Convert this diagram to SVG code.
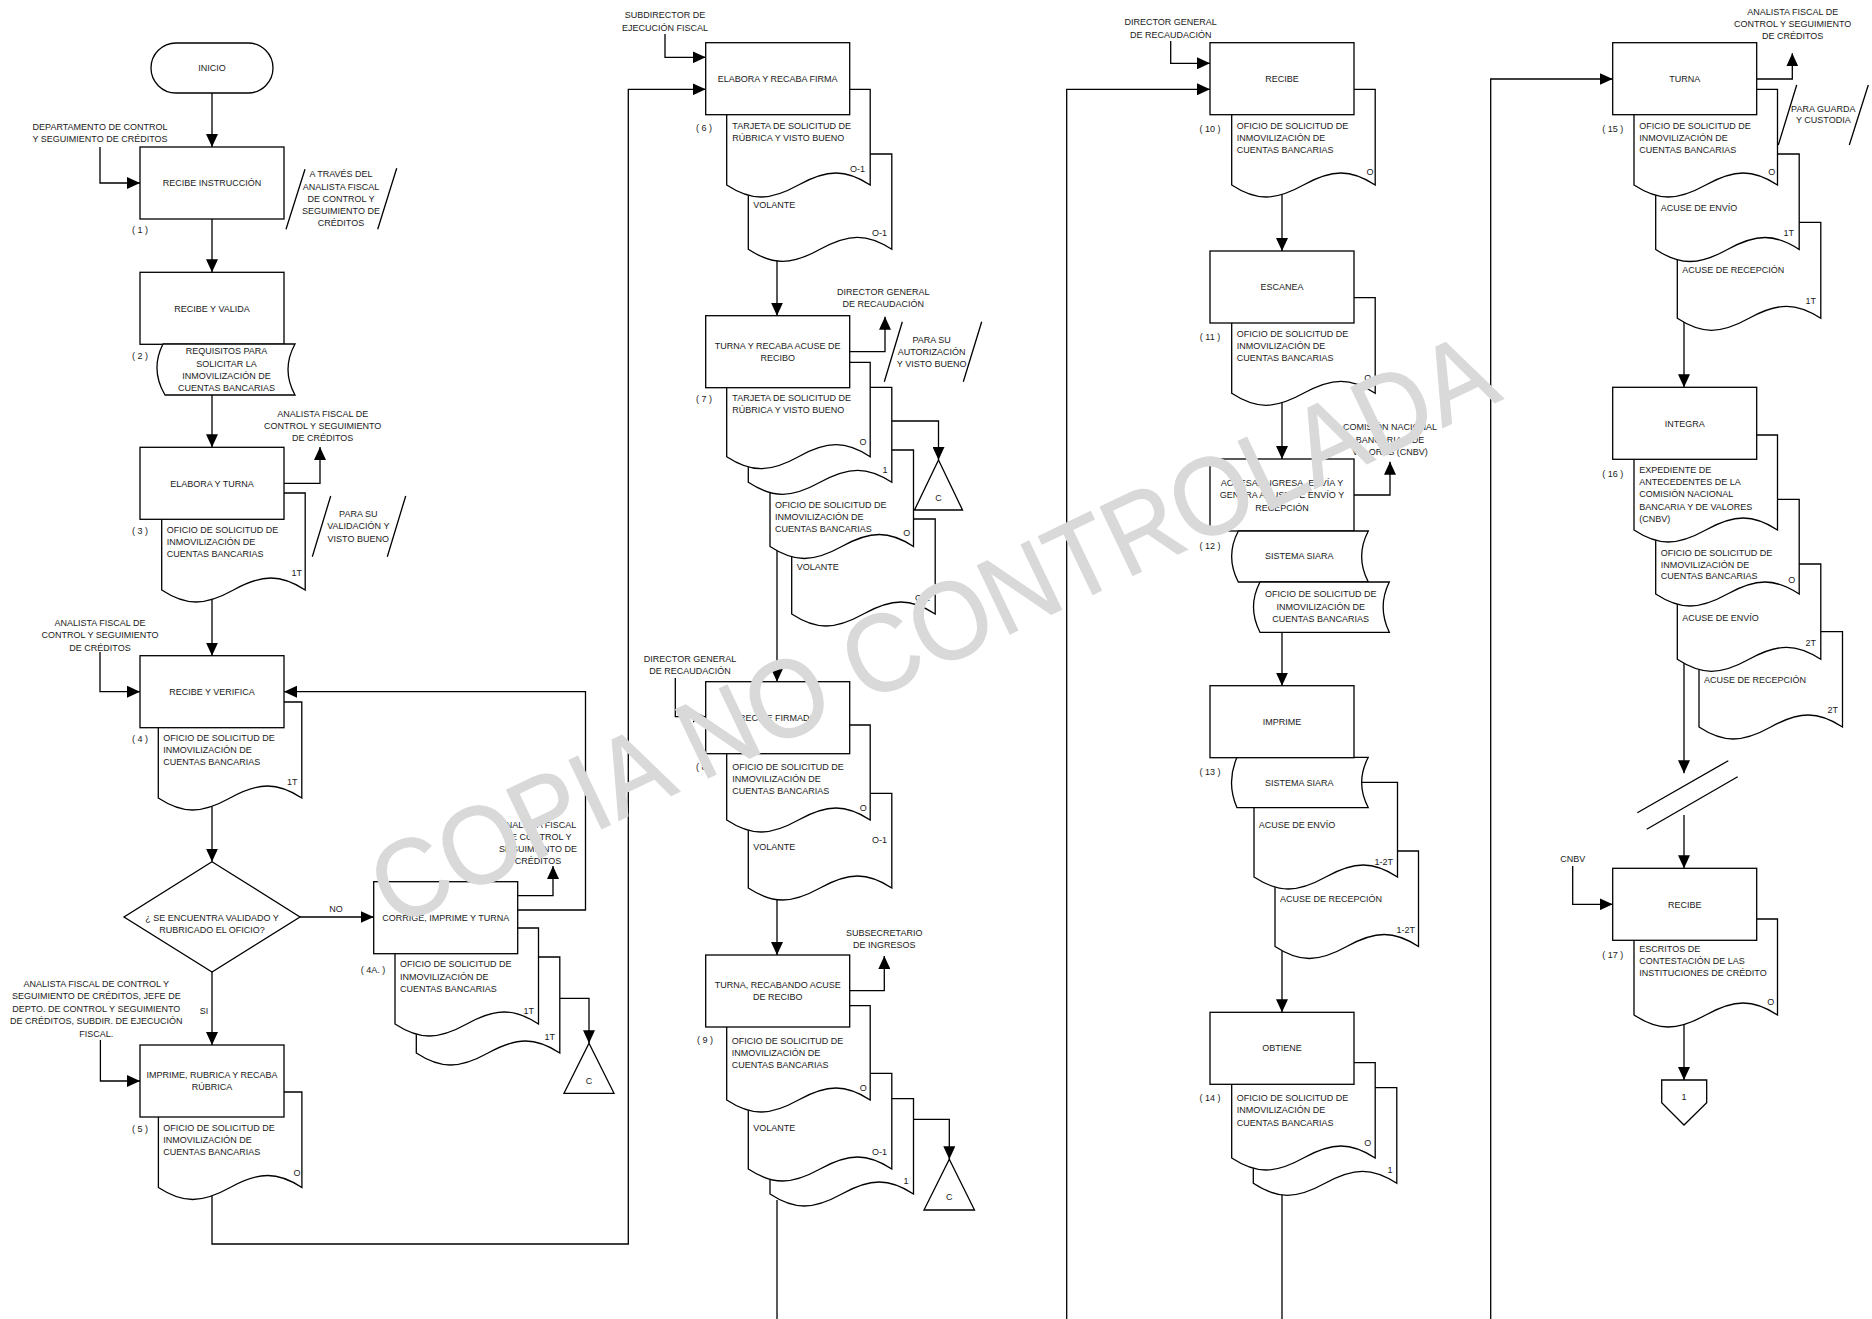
<svg xmlns="http://www.w3.org/2000/svg" width="1872" height="1319" viewBox="0 0 1872 1319">
<defs>
<marker id="ah" viewBox="0 0 13 12" refX="13" refY="6" markerWidth="13" markerHeight="12" markerUnits="userSpaceOnUse" orient="auto"><path d="M0,0 L13,6 L0,12 Z" fill="#000"/></marker>
<style>
.s{fill:#fff;stroke:#000;stroke-width:1.3}
.l{fill:none;stroke:#000;stroke-width:1.3}
.a{fill:none;stroke:#000;stroke-width:1.3;marker-end:url(#ah)}
text{font-family:"Liberation Sans",Arial,sans-serif;font-size:9px;fill:#1a1a1a}
.c{text-anchor:middle}
.e{text-anchor:end}
.wm{font-size:110px;fill:#d9d9d9;stroke:#d9d9d9;stroke-width:1.2;text-anchor:middle}
</style>
</defs>
<rect width="1872" height="1319" fill="#fff"/>

<g id="connectors">
<path class="a" d="M212,93 V147"/>
<path class="a" d="M100,147 V183 H140"/>
<path class="a" d="M212,219 V272.3"/>
<path class="a" d="M212,390 V447.3"/>
<path class="a" d="M284,483.3 H320 V447"/>
<path class="a" d="M212,595 V655.7"/>
<path class="a" d="M100,652 V691.7 H140"/>
<path class="a" d="M212,805 V861.7"/>
<path class="a" d="M300,917 H373.7"/>
<text x="336" y="912.3" class="c">NO</text>
<path class="a" d="M212,972 V1045"/>
<text x="204" y="1014.3" class="c">SI</text>
<path class="a" d="M100.4,1040 V1081 H140"/>
<path class="a" d="M517.7,895.7 H553 V866"/>
<path class="a" d="M517.7,910 H585.5 V691.7 H284"/>
<path class="a" d="M559.8,998.3 H589 V1043.3"/>
<path class="a" d="M212,1190 V1244 H628.3 V89.3 H705.7"/>
<path class="a" d="M665,34 V57.3 H705.7"/>
<path class="a" d="M777,255 V315.7"/>
<path class="a" d="M849.7,351.7 H885 V316.7"/>
<path class="a" d="M891.8,421 H938.5 V460"/>
<path class="a" d="M777,550 V681.7"/>
<path class="a" d="M675.3,678 V716.7 H705.7"/>
<path class="a" d="M777,895 V955"/>
<path class="a" d="M849.7,990.7 H884.3 V956"/>
<path class="a" d="M913.5,1119.3 H949.3 V1159.3"/>
<path class="l" d="M777,1200 V1319"/>
<path class="a" d="M1170.7,41 V63.3 H1210"/>
<path class="a" d="M1066.7,1319 V89.3 H1210"/>
<path class="a" d="M1282,190 V251"/>
<path class="a" d="M1282,398 V459"/>
<path class="a" d="M1354,495 H1390 V461.7"/>
<path class="a" d="M1282,632 V685.7"/>
<path class="a" d="M1282,947 V1012.3"/>
<path class="l" d="M1282,1188 V1319"/>
<path class="a" d="M1490.7,1319 V79 H1612.7"/>
<path class="a" d="M1756.7,79 H1792.3 V53.3"/>
<path class="a" d="M1684,319 V387.3"/>
<path class="a" d="M1684,663 V773.3"/>
<path class="a" d="M1684,815 V868.3"/>
<path class="a" d="M1572.7,866 V904.3 H1612.7"/>
<path class="a" d="M1684,1020 V1080"/>
<path class="l" d="M1637.3,812.7 L1728.3,760.7 M1646.7,829.3 L1737.7,776.7"/>
</g>

<g id="inicio">
<rect x="151" y="43" width="122" height="50" rx="25" class="s"/>
<text x="212" y="71" class="c">INICIO</text>
</g>

<g id="step1">
<text x="100" y="130" class="c">DEPARTAMENTO DE CONTROL</text>
<text x="100" y="141.6" class="c">Y SEGUIMIENTO DE CRÉDITOS</text>
<rect x="140" y="147" width="144" height="72" class="s"/>
<text x="212" y="186.3" class="c">RECIBE INSTRUCCIÓN</text>
<text x="140" y="233.3" class="c">( 1 )</text>
<path class="l" d="M305,169.3 L286,229.3 M396.7,168.3 L377.7,229.3"/>
<text x="341" y="177.3" class="c">A TRAVÉS DEL</text>
<text x="341" y="190" class="c">ANALISTA FISCAL</text>
<text x="341" y="202" class="c">DE CONTROL Y</text>
<text x="341" y="214" class="c">SEGUIMIENTO DE</text>
<text x="341" y="226" class="c">CRÉDITOS</text>
</g>

<g id="step2">
<rect x="140" y="272.3" width="144" height="72" class="s"/>
<text x="212" y="311.6" class="c">RECIBE Y VALIDA</text>
<path class="s" d="M163,344 H295 Q281,369.5 295,395 H165 Q150,369.5 163,344 Z"/>
<text x="140" y="359" class="c">( 2 )</text>
<text x="226.5" y="354" class="c">REQUISITOS PARA</text>
<text x="226.5" y="366.6" class="c">SOLICITAR LA</text>
<text x="226.5" y="379" class="c">INMOVILIZACIÓN DE</text>
<text x="226.5" y="390.6" class="c">CUENTAS BANCARIAS</text>
</g>

<g id="step3">
<text x="322.7" y="416.6" class="c">ANALISTA FISCAL DE</text>
<text x="322.7" y="429" class="c">CONTROL Y SEGUIMIENTO</text>
<text x="322.7" y="440.6" class="c">DE CRÉDITOS</text>
<path class="s" d="M161.7,493 h143.5 V590 c-24.4,-16 -43,-16 -71.75,0 c-28.75,16 -47.35,16 -71.75,0 Z"/>
<rect x="140" y="447.3" width="144" height="72" class="s"/>
<text x="212" y="486.6" class="c">ELABORA Y TURNA</text>
<text x="140" y="534" class="c">( 3 )</text>
<text x="166.7" y="532.6">OFICIO DE SOLICITUD DE</text>
<text x="166.7" y="545">INMOVILIZACIÓN DE</text>
<text x="166.7" y="557">CUENTAS BANCARIAS</text>
<text x="302" y="576" class="e">1T</text>
<path class="l" d="M330.7,496 L312.3,556.7 M405.7,496 L387.3,556.7"/>
<text x="358.3" y="516.6" class="c">PARA SU</text>
<text x="358.3" y="529" class="c">VALIDACIÓN Y</text>
<text x="358.3" y="541.6" class="c">VISTO BUENO</text>
</g>

<g id="step4">
<text x="100" y="626" class="c">ANALISTA FISCAL DE</text>
<text x="100" y="638" class="c">CONTROL Y SEGUIMIENTO</text>
<text x="100" y="650.6" class="c">DE CRÉDITOS</text>
<path class="s" d="M158.3,702 h143.5 V798 c-24.4,-16 -43,-16 -71.75,0 c-28.75,16 -47.35,16 -71.75,0 Z"/>
<rect x="140" y="655.7" width="144" height="72" class="s"/>
<text x="212" y="695" class="c">RECIBE Y VERIFICA</text>
<text x="140" y="742.3" class="c">( 4 )</text>
<text x="163.3" y="740.6">OFICIO DE SOLICITUD DE</text>
<text x="163.3" y="752.6">INMOVILIZACIÓN DE</text>
<text x="163.3" y="765">CUENTAS BANCARIAS</text>
<text x="297.5" y="785" class="e">1T</text>
</g>

<g id="decision">
<path class="s" d="M212,861.7 L300,917 L212,972 L124,917 Z"/>
<text x="212" y="921" class="c">¿ SE ENCUENTRA VALIDADO Y</text>
<text x="212" y="933.3" class="c">RUBRICADO EL OFICIO?</text>
</g>

<g id="step4a">
<text x="538" y="827.6" class="c">ANALISTA FISCAL</text>
<text x="538" y="840" class="c">DE CONTROL Y</text>
<text x="538" y="851.6" class="c">SEGUIMIENTO DE</text>
<text x="538" y="864" class="c">CRÉDITOS</text>
<path class="s" d="M416.3,957 h143.5 V1053 c-24.4,-16 -43,-16 -71.75,0 c-28.75,16 -47.35,16 -71.75,0 Z"/>
<path class="s" d="M395,928 h143.5 V1024 c-24.4,-16 -43,-16 -71.75,0 c-28.75,16 -47.35,16 -71.75,0 Z"/>
<rect x="373.7" y="881.7" width="144" height="72" class="s"/>
<text x="445.7" y="921" class="c">CORRIGE, IMPRIME Y TURNA</text>
<text x="373" y="972.6" class="c">( 4A. )</text>
<text x="400" y="966.6">OFICIO DE SOLICITUD DE</text>
<text x="400" y="980">INMOVILIZACIÓN DE</text>
<text x="400" y="992">CUENTAS BANCARIAS</text>
<text x="534" y="1014" class="e">1T</text>
<text x="555" y="1040" class="e">1T</text>
</g>

<g id="conn-c1">
<path class="s" d="M589,1043.3 L614,1093.3 L564,1093.3 Z"/>
<text x="589" y="1084.3" class="c">C</text>
</g>

<g id="step5">
<text x="96.3" y="987.3" class="c">ANALISTA FISCAL DE CONTROL Y</text>
<text x="96.3" y="999.3" class="c">SEGUIMIENTO DE CRÉDITOS, JEFE DE</text>
<text x="96.3" y="1011.6" class="c">DEPTO. DE CONTROL Y SEGUIMIENTO</text>
<text x="96.3" y="1024" class="c">DE CRÉDITOS, SUBDIR. DE EJECUCIÓN</text>
<text x="96.3" y="1036.6" class="c">FISCAL.</text>
<path class="s" d="M158.4,1092 h143.5 V1187.5 c-24.4,-16 -43,-16 -71.75,0 c-28.75,16 -47.35,16 -71.75,0 Z"/>
<rect x="140" y="1045" width="144" height="72" class="s"/>
<text x="212" y="1077.6" class="c">IMPRIME, RUBRICA Y RECABA</text>
<text x="212" y="1090" class="c">RÚBRICA</text>
<text x="140" y="1131.6" class="c">( 5 )</text>
<text x="163.3" y="1131">OFICIO DE SOLICITUD DE</text>
<text x="163.3" y="1143">INMOVILIZACIÓN DE</text>
<text x="163.3" y="1155">CUENTAS BANCARIAS</text>
<text x="297" y="1176" class="c">O</text>
</g>

<g id="step6">
<text x="665" y="18" class="c">SUBDIRECTOR DE</text>
<text x="665" y="31" class="c">EJECUCIÓN FISCAL</text>
<path class="s" d="M748.3,154 h143.5 V249.3 c-24.4,-16 -43,-16 -71.75,0 c-28.75,16 -47.35,16 -71.75,0 Z"/>
<path class="s" d="M726.7,89.3 h143.5 V185 c-24.4,-16 -43,-16 -71.75,0 c-28.75,16 -47.35,16 -71.75,0 Z"/>
<rect x="705.7" y="42.7" width="144" height="72" class="s"/>
<text x="777.7" y="82" class="c">ELABORA Y RECABA FIRMA</text>
<text x="704" y="130.6" class="c">( 6 )</text>
<text x="732.3" y="129.3">TARJETA DE SOLICITUD DE</text>
<text x="732.3" y="140.6">RÚBRICA Y VISTO BUENO</text>
<text x="865" y="172" class="e">O-1</text>
<text x="753.3" y="207.6">VOLANTE</text>
<text x="887" y="236" class="e">O-1</text>
</g>

<g id="step7">
<text x="883.3" y="295" class="c">DIRECTOR GENERAL</text>
<text x="883.3" y="306.6" class="c">DE RECAUDACIÓN</text>
<path class="s" d="M791.7,519 h143.5 V614 c-24.4,-16 -43,-16 -71.75,0 c-28.75,16 -47.35,16 -71.75,0 Z"/>
<path class="s" d="M770,450 h143.5 V546.5 c-24.4,-16 -43,-16 -71.75,0 c-28.75,16 -47.35,16 -71.75,0 Z"/>
<path class="s" d="M748.3,387.3 h143.5 V482.3 c-24.4,-16 -43,-16 -71.75,0 c-28.75,16 -47.35,16 -71.75,0 Z"/>
<path class="s" d="M726.7,362.3 h143.5 V456.7 c-24.4,-16 -43,-16 -71.75,0 c-28.75,16 -47.35,16 -71.75,0 Z"/>
<rect x="705.7" y="315.7" width="144" height="72" class="s"/>
<text x="777.7" y="349" class="c">TURNA Y RECABA ACUSE DE</text>
<text x="777.7" y="360.6" class="c">RECIBO</text>
<path class="l" d="M902.3,321.7 L884.3,381.7 M981.7,321.7 L963.3,381.7"/>
<text x="931.7" y="342.6" class="c">PARA SU</text>
<text x="931.7" y="355" class="c">AUTORIZACIÓN</text>
<text x="931.7" y="366.6" class="c">Y VISTO BUENO</text>
<text x="704" y="402.3" class="c">( 7 )</text>
<text x="732.3" y="401">TARJETA DE SOLICITUD DE</text>
<text x="732.3" y="412.6">RÚBRICA Y VISTO BUENO</text>
<text x="863" y="445" class="c">O</text>
<text x="885" y="472.6" class="c">1</text>
<text x="775" y="507.6">OFICIO DE SOLICITUD DE</text>
<text x="775" y="520">INMOVILIZACIÓN DE</text>
<text x="775" y="531.6">CUENTAS BANCARIAS</text>
<text x="906.7" y="535.6" class="c">O</text>
<text x="796.7" y="570">VOLANTE</text>
<text x="930" y="601" class="e">O-1</text>
</g>

<g id="conn-c2">
<path class="s" d="M938.5,460 L962.5,510 L914.5,510 Z"/>
<text x="938.5" y="500.6" class="c">C</text>
</g>

<g id="step8">
<text x="690" y="662.3" class="c">DIRECTOR GENERAL</text>
<text x="690" y="674" class="c">DE RECAUDACIÓN</text>
<path class="s" d="M748.3,793.3 h143.5 V888 c-24.4,-16 -43,-16 -71.75,0 c-28.75,16 -47.35,16 -71.75,0 Z"/>
<path class="s" d="M726.7,725 h143.5 V820 c-24.4,-16 -43,-16 -71.75,0 c-28.75,16 -47.35,16 -71.75,0 Z"/>
<rect x="705.7" y="681.7" width="144" height="72" class="s"/>
<text x="777.7" y="720.6" class="c">RECIBE FIRMADO</text>
<text x="704" y="770" class="c">( 8 )</text>
<text x="732.3" y="770">OFICIO DE SOLICITUD DE</text>
<text x="732.3" y="782.3">INMOVILIZACIÓN DE</text>
<text x="732.3" y="794">CUENTAS BANCARIAS</text>
<text x="863.3" y="811" class="c">O</text>
<text x="753.3" y="850">VOLANTE</text>
<text x="887" y="842.6" class="e">O-1</text>
</g>

<g id="step9">
<text x="884.3" y="936" class="c">SUBSECRETARIO</text>
<text x="884.3" y="947.6" class="c">DE INGRESOS</text>
<path class="s" d="M770,1098.7 h143.5 V1194 c-24.4,-16 -43,-16 -71.75,0 c-28.75,16 -47.35,16 -71.75,0 Z"/>
<path class="s" d="M748.3,1073.3 h143.5 V1169 c-24.4,-16 -43,-16 -71.75,0 c-28.75,16 -47.35,16 -71.75,0 Z"/>
<path class="s" d="M726.7,1005.7 h143.5 V1100 c-24.4,-16 -43,-16 -71.75,0 c-28.75,16 -47.35,16 -71.75,0 Z"/>
<rect x="705.7" y="955" width="144" height="72" class="s"/>
<text x="777.7" y="987.6" class="c">TURNA, RECABANDO ACUSE</text>
<text x="777.7" y="999.6" class="c">DE RECIBO</text>
<text x="705" y="1043.3" class="c">( 9 )</text>
<text x="731.7" y="1044">OFICIO DE SOLICITUD DE</text>
<text x="731.7" y="1056">INMOVILIZACIÓN DE</text>
<text x="731.7" y="1067.6">CUENTAS BANCARIAS</text>
<text x="863.3" y="1091" class="c">O</text>
<text x="753.3" y="1130.6">VOLANTE</text>
<text x="887" y="1155" class="e">O-1</text>
<text x="906" y="1184" class="c">1</text>
</g>

<g id="conn-c3">
<path class="s" d="M949.3,1159.3 L974.5,1210 L924,1210 Z"/>
<text x="949.3" y="1200" class="c">C</text>
</g>

<g id="step10">
<text x="1170.7" y="25" class="c">DIRECTOR GENERAL</text>
<text x="1170.7" y="37.6" class="c">DE RECAUDACIÓN</text>
<path class="s" d="M1231.7,89.3 h143.5 V185 c-24.4,-16 -43,-16 -71.75,0 c-28.75,16 -47.35,16 -71.75,0 Z"/>
<rect x="1210" y="42.7" width="144" height="72" class="s"/>
<text x="1282" y="82" class="c">RECIBE</text>
<text x="1210" y="131.6" class="c">( 10 )</text>
<text x="1236.7" y="129">OFICIO DE SOLICITUD DE</text>
<text x="1236.7" y="140.6">INMOVILIZACIÓN DE</text>
<text x="1236.7" y="152.6">CUENTAS BANCARIAS</text>
<text x="1370" y="175" class="c">O</text>
</g>

<g id="step11">
<path class="s" d="M1231.7,297.7 h143.5 V393.3 c-24.4,-16 -43,-16 -71.75,0 c-28.75,16 -47.35,16 -71.75,0 Z"/>
<rect x="1210" y="251" width="144" height="72" class="s"/>
<text x="1282" y="290" class="c">ESCANEA</text>
<text x="1210" y="340" class="c">( 11 )</text>
<text x="1236.7" y="336.6">OFICIO DE SOLICITUD DE</text>
<text x="1236.7" y="349">INMOVILIZACIÓN DE</text>
<text x="1236.7" y="361">CUENTAS BANCARIAS</text>
<text x="1367.7" y="381" class="c">O</text>
</g>

<g id="step12">
<text x="1390" y="430.3" class="c">COMISIÓN NACIONAL</text>
<text x="1390" y="442.6" class="c">BANCARIA Y DE</text>
<text x="1390" y="455" class="c">VALORES (CNBV)</text>
<rect x="1210" y="459" width="144" height="72" class="s"/>
<text x="1282" y="486" class="c">ACCESA, INGRESA, ENVÍA Y</text>
<text x="1282" y="497.6" class="c">GENERA ACUSE DE ENVÍO Y</text>
<text x="1282" y="510.6" class="c">RECEPCIÓN</text>
<path class="s" d="M1238.3,531 H1368.3 Q1355,556.5 1368.3,582 H1238.3 Q1225,556.5 1238.3,531 Z"/>
<text x="1299.3" y="559" class="c">SISTEMA SIARA</text>
<path class="s" d="M1260,582 H1389.3 Q1377,607 1389.3,632.3 H1260 Q1247,607 1260,582 Z"/>
<text x="1320.7" y="597.3" class="c">OFICIO DE SOLICITUD DE</text>
<text x="1320.7" y="610" class="c">INMOVILIZACIÓN DE</text>
<text x="1320.7" y="621.6" class="c">CUENTAS BANCARIAS</text>
<text x="1210" y="549.3" class="c">( 12 )</text>
</g>

<g id="step13">
<path class="s" d="M1275,851 h143.5 V946.5 c-24.4,-16 -43,-16 -71.75,0 c-28.75,16 -47.35,16 -71.75,0 Z"/>
<path class="s" d="M1254,782.3 h143.5 V877 c-24.4,-16 -43,-16 -71.75,0 c-28.75,16 -47.35,16 -71.75,0 Z"/>
<path class="s" d="M1237,757.3 H1368.3 Q1355,782.5 1368.3,807.7 H1237 Q1226,782.5 1237,757.3 Z"/>
<rect x="1210" y="685.7" width="144" height="72" class="s"/>
<text x="1282" y="725" class="c">IMPRIME</text>
<text x="1210" y="775" class="c">( 13 )</text>
<text x="1299.3" y="786" class="c">SISTEMA SIARA</text>
<text x="1258.7" y="827.6">ACUSE DE ENVÍO</text>
<text x="1393" y="865" class="e">1-2T</text>
<text x="1280" y="901.6">ACUSE DE RECEPCIÓN</text>
<text x="1415" y="932.6" class="e">1-2T</text>
</g>

<g id="step14">
<path class="s" d="M1253.3,1087.7 h143.5 V1183.3 c-24.4,-16 -43,-16 -71.75,0 c-28.75,16 -47.35,16 -71.75,0 Z"/>
<path class="s" d="M1231.7,1062.7 h143.5 V1158 c-24.4,-16 -43,-16 -71.75,0 c-28.75,16 -47.35,16 -71.75,0 Z"/>
<rect x="1210" y="1012.3" width="144" height="72" class="s"/>
<text x="1282" y="1050.6" class="c">OBTIENE</text>
<text x="1210" y="1100.6" class="c">( 14 )</text>
<text x="1236.7" y="1100.6">OFICIO DE SOLICITUD DE</text>
<text x="1236.7" y="1113.3">INMOVILIZACIÓN DE</text>
<text x="1236.7" y="1125.6">CUENTAS BANCARIAS</text>
<text x="1367.7" y="1146" class="c">O</text>
<text x="1390" y="1172.6" class="c">1</text>
</g>

<g id="step15">
<text x="1792.7" y="15" class="c">ANALISTA FISCAL DE</text>
<text x="1792.7" y="27.3" class="c">CONTROL Y SEGUIMIENTO</text>
<text x="1792.7" y="39" class="c">DE CRÉDITOS</text>
<path class="s" d="M1677.3,222.3 h143.5 V318.3 c-24.4,-16 -43,-16 -71.75,0 c-28.75,16 -47.35,16 -71.75,0 Z"/>
<path class="s" d="M1655.7,154 h143.5 V249.5 c-24.4,-16 -43,-16 -71.75,0 c-28.75,16 -47.35,16 -71.75,0 Z"/>
<path class="s" d="M1634,89.3 h143.5 V185 c-24.4,-16 -43,-16 -71.75,0 c-28.75,16 -47.35,16 -71.75,0 Z"/>
<rect x="1612.7" y="42.7" width="144" height="72" class="s"/>
<text x="1684.7" y="82" class="c">TURNA</text>
<path class="l" d="M1796.7,85 L1778.3,145 M1868.3,85 L1849.3,145"/>
<text x="1823.3" y="111.6" class="c">PARA GUARDA</text>
<text x="1823.3" y="123.3" class="c">Y CUSTODIA</text>
<text x="1612.7" y="131.6" class="c">( 15 )</text>
<text x="1639.3" y="129.3">OFICIO DE SOLICITUD DE</text>
<text x="1639.3" y="141">INMOVILIZACIÓN DE</text>
<text x="1639.3" y="152.6">CUENTAS BANCARIAS</text>
<text x="1771.7" y="175" class="c">O</text>
<text x="1660.7" y="210.6">ACUSE DE ENVÍO</text>
<text x="1794" y="235.6" class="e">1T</text>
<text x="1682.3" y="272.6">ACUSE DE RECEPCIÓN</text>
<text x="1816" y="304" class="e">1T</text>
</g>

<g id="step16">
<path class="s" d="M1699,631.7 h143.5 V727 c-24.4,-16 -43,-16 -71.75,0 c-28.75,16 -47.35,16 -71.75,0 Z"/>
<path class="s" d="M1677.3,564 h143.5 V659.3 c-24.4,-16 -43,-16 -71.75,0 c-28.75,16 -47.35,16 -71.75,0 Z"/>
<path class="s" d="M1655.7,499.3 h143.5 V594 c-24.4,-16 -43,-16 -71.75,0 c-28.75,16 -47.35,16 -71.75,0 Z"/>
<path class="s" d="M1634,435 h143.5 V530 c-24.4,-16 -43,-16 -71.75,0 c-28.75,16 -47.35,16 -71.75,0 Z"/>
<rect x="1612.7" y="387.3" width="144" height="72" class="s"/>
<text x="1684.7" y="426.6" class="c">INTEGRA</text>
<text x="1612.7" y="476.6" class="c">( 16 )</text>
<text x="1639.3" y="472.6">EXPEDIENTE DE</text>
<text x="1639.3" y="485">ANTECEDENTES DE LA</text>
<text x="1639.3" y="497">COMISIÓN NACIONAL</text>
<text x="1639.3" y="510">BANCARIA Y DE VALORES</text>
<text x="1639.3" y="522.3">(CNBV)</text>
<text x="1660.7" y="555.6">OFICIO DE SOLICITUD DE</text>
<text x="1660.7" y="567.6">INMOVILIZACIÓN DE</text>
<text x="1660.7" y="579.3">CUENTAS BANCARIAS</text>
<text x="1791.7" y="583.3" class="c">O</text>
<text x="1682.3" y="620.6">ACUSE DE ENVÍO</text>
<text x="1816" y="645.6" class="e">2T</text>
<text x="1704" y="682.6">ACUSE DE RECEPCIÓN</text>
<text x="1838" y="713.3" class="e">2T</text>
</g>

<g id="step17">
<text x="1572.7" y="861.6" class="c">CNBV</text>
<path class="s" d="M1634,919 h143.5 V1015 c-24.4,-16 -43,-16 -71.75,0 c-28.75,16 -47.35,16 -71.75,0 Z"/>
<rect x="1612.7" y="868.3" width="144" height="72" class="s"/>
<text x="1684.7" y="907.6" class="c">RECIBE</text>
<text x="1612.7" y="958.3" class="c">( 17 )</text>
<text x="1639.3" y="951.6">ESCRITOS DE</text>
<text x="1639.3" y="964">CONTESTACIÓN DE LAS</text>
<text x="1639.3" y="976">INSTITUCIONES DE CRÉDITO</text>
<text x="1770.7" y="1005" class="c">O</text>
</g>

<g id="offpage1">
<path class="s" d="M1661.7,1080 H1706.7 V1102.7 L1684,1125 L1661.7,1102.7 Z"/>
<text x="1684" y="1100" class="c">1</text>
</g>

<text class="wm" transform="translate(932,628) rotate(-25.5)" x="0" y="39" textLength="1230" lengthAdjust="spacingAndGlyphs">COPIA NO CONTROLADA</text>
</svg>
